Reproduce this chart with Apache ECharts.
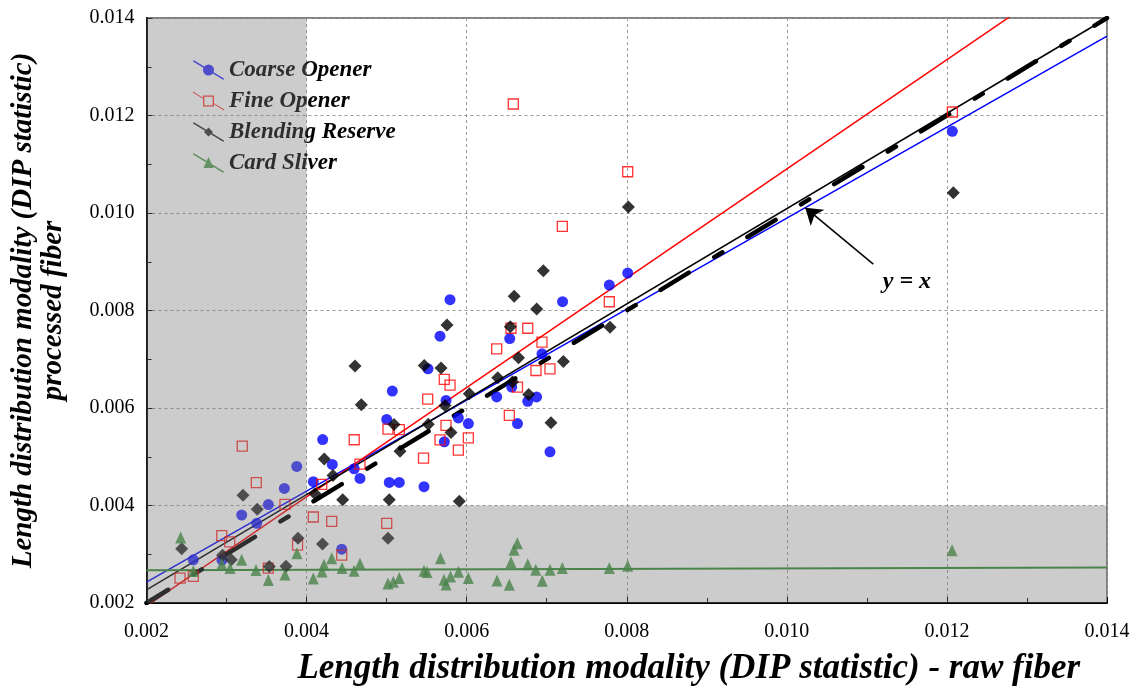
<!DOCTYPE html>
<html>
<head>
<meta charset="utf-8">
<script src="https://cdn.jsdelivr.net/npm/echarts@6/dist/echarts.min.js"></script>
<style>
  html, body { margin: 0; padding: 0; background: #fff; }
  #chart { width: 1136px; height: 691px; }
</style>
</head>
<body>
<div id="chart"></div>
<script>
// raw fiber DIP (x) vs processed fiber DIP (y)
const coarseOpener = [
  [0.002585, 0.002885], [0.002943, 0.002879], [0.003189, 0.003805], [0.003377, 0.003635],
  [0.003522, 0.004018], [0.003722, 0.004351], [0.003877, 0.004801], [0.004084, 0.004488],
  [0.004201, 0.005353], [0.004321, 0.004842], [0.004439, 0.003104], [0.004595, 0.004754],
  [0.004667, 0.004555], [0.005001, 0.005766], [0.005033, 0.004474], [0.005071, 0.006348],
  [0.005158, 0.004474], [0.005467, 0.004386], [0.005517, 0.006804], [0.005667, 0.007473],
  [0.005721, 0.005306], [0.005742, 0.006156], [0.005792, 0.008221], [0.005896, 0.005796],
  [0.006021, 0.005680], [0.006375, 0.006226], [0.006538, 0.007424], [0.006563, 0.006430],
  [0.006635, 0.005680], [0.006763, 0.006136], [0.006873, 0.006226], [0.006941, 0.007111],
  [0.007041, 0.005101], [0.007198, 0.008180], [0.007782, 0.008521], [0.008012, 0.008767],
  [0.012068, 0.011676]
]
const fineOpener = [
  [0.002419, 0.002511], [0.002585, 0.002546], [0.002940, 0.003384], [0.003040, 0.003253],
  [0.003196, 0.005220], [0.003372, 0.004470], [0.003522, 0.002716], [0.003730, 0.004024],
  [0.003887, 0.003186], [0.004084, 0.003764], [0.004189, 0.004433], [0.004314, 0.003676],
  [0.004439, 0.002981], [0.004595, 0.005349], [0.004667, 0.004848], [0.005001, 0.003635],
  [0.005017, 0.005567], [0.005158, 0.005557], [0.005461, 0.004970], [0.005513, 0.006181],
  [0.005667, 0.005347], [0.005720, 0.006589], [0.005792, 0.006471], [0.005742, 0.005645],
  [0.005896, 0.005136], [0.006021, 0.005387], [0.006375, 0.007213], [0.006533, 0.005849],
  [0.006554, 0.007636], [0.006583, 0.012236], [0.006635, 0.006430], [0.006763, 0.007636],
  [0.006866, 0.006769], [0.006941, 0.007350], [0.007041, 0.006804], [0.007195, 0.009727],
  [0.007782, 0.008180], [0.008012, 0.010846], [0.012068, 0.012072]
]
const blendingReserve = [
  [0.002440, 0.003114], [0.002950, 0.002981], [0.003059, 0.002885], [0.003206, 0.004208],
  [0.003384, 0.003922], [0.003534, 0.002750], [0.003743, 0.002756], [0.003893, 0.003329],
  [0.004105, 0.004239], [0.004199, 0.003212], [0.004221, 0.004954], [0.004330, 0.004617],
  [0.004451, 0.004120], [0.004605, 0.006859], [0.004684, 0.006068], [0.005017, 0.003329],
  [0.005033, 0.004120], [0.005092, 0.005659], [0.005167, 0.005113], [0.005470, 0.006872],
  [0.005521, 0.005665], [0.005680, 0.006818], [0.005729, 0.006052], [0.005754, 0.007704],
  [0.005804, 0.005496], [0.005908, 0.004085], [0.006033, 0.006293], [0.006388, 0.006620],
  [0.006545, 0.007669], [0.006573, 0.006532], [0.006594, 0.008290], [0.006648, 0.007029],
  [0.006775, 0.006279], [0.006875, 0.008031], [0.006958, 0.008814], [0.007054, 0.005696],
  [0.007208, 0.006953], [0.007791, 0.007657], [0.008020, 0.010122], [0.012080, 0.010416]
]
const cardSliver = [
  [0.002427, 0.003343], [0.002585, 0.002654], [0.002940, 0.002797], [0.003043, 0.002716],
  [0.003189, 0.002885], [0.003368, 0.002675], [0.003522, 0.002470], [0.003730, 0.002583],
  [0.003880, 0.003022], [0.004084, 0.002501], [0.004193, 0.002648], [0.004218, 0.002787],
  [0.004314, 0.002920], [0.004443, 0.002716], [0.004593, 0.002664], [0.004667, 0.002803],
  [0.005017, 0.002399], [0.005084, 0.002435], [0.005158, 0.002511], [0.005467, 0.002664],
  [0.005505, 0.002634], [0.005673, 0.002920], [0.005717, 0.002476], [0.005742, 0.002382],
  [0.005798, 0.002546], [0.005898, 0.002640], [0.006021, 0.002511], [0.006379, 0.002460],
  [0.006533, 0.002374], [0.006554, 0.002838], [0.006592, 0.003090], [0.006633, 0.003227],
  [0.006763, 0.002797], [0.006863, 0.002681], [0.006945, 0.002456], [0.007041, 0.002681],
  [0.007195, 0.002716], [0.007782, 0.002716], [0.008012, 0.002763], [0.012064, 0.003083]
]

// fitted lines (end points) and the y = x reference
const coarseFit = [[0.002, 0.00243], [0.014, 0.01363]]
const fineFit = [[0.002, 0.001937], [0.014, 0.015387]]
const blendFit = [[0.002, 0.00227], [0.014, 0.01400]]
const sliverFit = [[0.002, 0.00267], [0.014, 0.00273]]
const identity = [[0.002, 0.002], [0.014, 0.014]]

// annotation: arrow tail, arrow tip, text position
const arrowTail = [0.01108, 0.00895]
const arrowTip = [0.01023, 0.01011]
const identityLabel = [0.01150, 0.00858]

// shaded zones (raw < 0.004 or processed < 0.004)
const shadeLeft = [[0.002, 0.002], [0.004, 0.014]]
const shadeBottom = [[0.004, 0.002], [0.014, 0.004]]

const serif = 'Liberation Serif'
const strip = 'M0 0 L1.4 0 L31 18 L31 19 L29.6 19 L0 1 Z '
const icons = {
  coarse: 'path://' + strip + 'M21 9.5 A5.5 5.5 0 1 1 10 9.5 A5.5 5.5 0 1 1 21 9.5 Z',
  fine: 'path://M0 0 L10 6.13 L10 7.33 L0 1.2 Z M21 11.67 L31 17.8 L31 19 L21 12.87 Z ' +
    'M10 4 L21 4 L21 15 L10 15 Z M11.3 5.3 L11.3 13.7 L19.7 13.7 L19.7 5.3 Z',
  blend: 'path://' + strip + 'M15.5 5 L20 9.5 L15.5 14 L11 9.5 Z',
  card: 'path://' + strip + 'M15.5 3.5 L20.5 14.5 L10.5 14.5 Z'
}

const chart = echarts.init(document.getElementById('chart'))

const fitLine = (name, data, color, width) => ({
  name: name,
  type: 'line',
  data: data,
  showSymbol: false,
  silent: true,
  z: 2,
  lineStyle: { color: color, width: width }
})

const options = {
  animation: false,
  grid: {
    left: 146.5,
    right: 29,
    top: 18,
    bottom: 86,
    show: true,
    borderColor: '#000',
    borderWidth: 1
  },
  legend: {
    orient: 'vertical',
    left: 188,
    top: 53,
    itemWidth: 31,
    itemHeight: 19,
    itemGap: 7,
    textStyle: {
      fontFamily: serif,
      fontSize: 23,
      fontWeight: 'bold',
      fontStyle: 'italic',
      color: '#000',
      lineHeight: 24
    },
    data: [
      { name: 'Coarse Opener', icon: icons.coarse },
      { name: 'Fine Opener', icon: icons.fine, itemStyle: { color: '#ff0000', borderWidth: 0 } },
      { name: 'Blending Reserve', icon: icons.blend },
      { name: 'Card Sliver', icon: icons.card }
    ]
  },
  xAxis: {
    type: 'value',
    min: 0.002,
    max: 0.014,
    interval: 0.002,
    name: 'Length distribution modality (DIP statistic) - raw fiber',
    nameLocation: 'middle',
    nameGap: 48,
    nameTextStyle: {
      fontFamily: serif, fontSize: 35, fontWeight: 'bold', fontStyle: 'italic', color: '#000',
      padding: [0, 0, 0, 124]
    },
    axisLine: { lineStyle: { color: '#000', width: 2 } },
    axisTick: { inside: true, length: 6, lineStyle: { color: '#000' } },
    minorTick: { show: true, splitNumber: 2, length: 5, lineStyle: { color: '#000' } },
    axisLabel: {
      fontFamily: serif, fontSize: 20, color: '#000', margin: 19,
      formatter: (v) => v.toFixed(3)
    },
    splitLine: { lineStyle: { color: '#9a9a9a', type: [3, 3], width: 1 } }
  },
  yAxis: {
    type: 'value',
    min: 0.002,
    max: 0.014,
    interval: 0.002,
    name: 'Length distribution modality (DIP statistic)\nprocessed fiber',
    nameLocation: 'middle',
    nameGap: 78,
    nameTextStyle: {
      fontFamily: serif, fontSize: 29, fontWeight: 'bold', fontStyle: 'italic',
      color: '#000', lineHeight: 30, align: 'center'
    },
    axisLine: { lineStyle: { color: '#000', width: 2 } },
    axisTick: { inside: true, length: 6, lineStyle: { color: '#000' } },
    minorTick: { show: true, splitNumber: 2, length: 5, lineStyle: { color: '#000' } },
    axisLabel: {
      fontFamily: serif, fontSize: 20, color: '#000', margin: 12,
      formatter: (v) => v.toFixed(3)
    },
    splitLine: { lineStyle: { color: '#9a9a9a', type: [3, 3], width: 1 } }
  },
  series: [
    fitLine('Coarse Opener fit', coarseFit, '#0000ff', 1.5),
    fitLine('Fine Opener fit', fineFit, '#ff0000', 1.5),
    fitLine('Blending Reserve fit', blendFit, '#000000', 1.5),
    fitLine('Card Sliver fit', sliverFit, '#2e8b2e', 2),
    {
      name: 'y = x',
      type: 'line',
      data: identity,
      showSymbol: false,
      silent: true,
      z: 2,
      lineStyle: { color: '#000', width: 4.5, type: [33, 29.8, 9.5, 29.3], dashOffset: 7.6, cap: 'round' },
      markLine: {
        silent: true,
        symbol: ['none', 'arrow'],
        symbolSize: 16,
        label: { show: false },
        lineStyle: { color: '#000', width: 1.5, type: 'solid' },
        data: [[{ coord: arrowTail }, { coord: arrowTip }]]
      },
      markPoint: {
        silent: true,
        symbol: 'circle',
        symbolSize: 0,
        label: {
          show: true,
          position: 'inside',
          formatter: 'y = x',
          fontFamily: serif,
          fontSize: 24,
          fontWeight: 'bold',
          fontStyle: 'italic',
          color: '#000'
        },
        data: [{ coord: identityLabel }]
      }
    },
    {
      name: 'Coarse Opener',
      type: 'scatter',
      data: coarseOpener,
      symbol: 'circle',
      symbolSize: 11,
      z: 3,
      itemStyle: { color: '#0000ff' }
    },
    {
      name: 'Fine Opener',
      type: 'scatter',
      data: fineOpener,
      symbol: 'rect',
      symbolSize: 10,
      z: 3,
      itemStyle: { color: 'rgba(255,255,255,0)', borderColor: '#ff0000', borderWidth: 1.3 }
    },
    {
      name: 'Blending Reserve',
      type: 'scatter',
      data: blendingReserve,
      symbol: 'diamond',
      symbolSize: 13,
      z: 3,
      itemStyle: { color: '#000000' }
    },
    {
      name: 'Card Sliver',
      type: 'scatter',
      data: cardSliver,
      symbol: 'triangle',
      symbolSize: [11, 12],
      z: 3,
      itemStyle: { color: '#2e8b2e' }
    },
    {
      name: 'shade',
      type: 'scatter',
      data: [],
      z: 10,
      silent: true,
      markArea: {
        silent: true,
        z: 10,
        itemStyle: {
          color: 'rgba(120,120,120,0.38)',
          decal: {
            symbol: 'rect',
            symbolSize: 1,
            color: 'rgba(90,90,90,0.22)',
            dashArrayX: [1, 0],
            dashArrayY: [1, 6]
          }
        },
        data: [
          [{ coord: shadeLeft[0] }, { coord: shadeLeft[1] }],
          [{ coord: shadeBottom[0] }, { coord: shadeBottom[1] }]
        ]
      }
    }
  ]
}

chart.setOption(options)
</script>
</body>
</html>
